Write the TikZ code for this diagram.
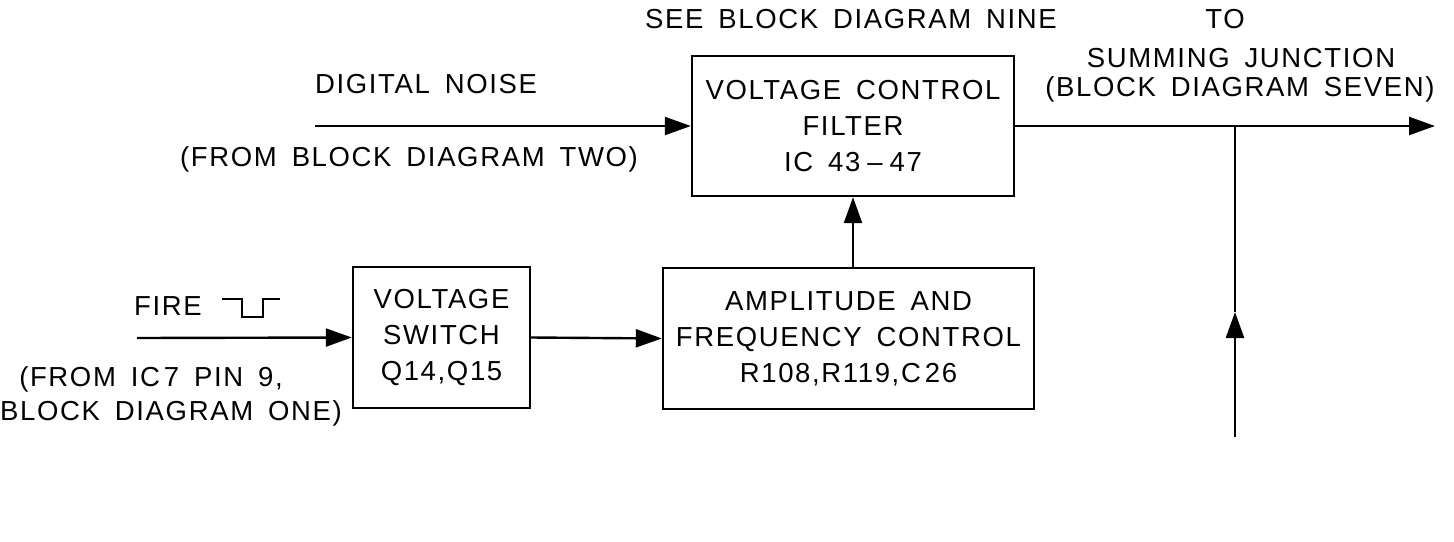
\documentclass[tikz,border=0pt]{standalone}
\usepackage{fontspec}
\setmainfont{Liberation Sans}[LetterSpace=6,WordSpace=1.6]
\usetikzlibrary{arrows.meta}
\begin{document}
\begin{tikzpicture}[x=1pt,y=-1pt,
  line width=2.4pt,
  font=\fontsize{27.5}{36}\selectfont,
  blk/.style={draw,rectangle,inner sep=0pt,align=center},
  lbl/.style={inner sep=0pt,anchor=center},
  arr/.style={-{Triangle[length=26pt,width=18pt]}}]
\useasboundingbox (0,0) rectangle (1454,541);
% blocks
\node[blk,minimum width=322pt,minimum height=140pt] (vcf) at (853,126)
  {VOLTAGE CONTROL\\FILTER\\IC 43\kern7pt–\kern7pt47};
\node[blk,minimum width=371pt,minimum height=141pt] (amp) at (848.5,338.5)
  {AMPLITUDE AND\\FREQUENCY CONTROL\\R108,R119,C\kern4pt26};
\node[blk,minimum width=177pt,minimum height=141pt] (vs) at (441.5,337.5)
  {VOLTAGE\\SWITCH\\Q14,Q15};
% labels
\node[lbl] (see) at (851,19) {SEE BLOCK DIAGRAM NINE};
\node[lbl] (to) at (1225,19) {TO};
\node[lbl] (sj) at (1241,58) {SUMMING JUNCTION};
\node[lbl] (bd7) at (1240,89) {(BLOCK DIAGRAM SEVEN)};
\node[lbl] (dnl) at (426,84) {DIGITAL NOISE};
\node[lbl] (bd2) at (409,159) {(FROM BLOCK DIAGRAM TWO)};
\node[lbl] (fire) at (168,306) {FIRE};
\node[lbl] (ic7) at (151,379) {(FROM IC\kern4pt7 PIN 9,};
\node[lbl] (bd1) at (171,413) {BLOCK DIAGRAM ONE)};
% fire pulse symbol
\draw (222,299) -- (242,299) -- (242,317) -- (263,317) -- (263,299) -- (280,299);
% coordinates
\coordinate (dn) at (315,126);
\coordinate (fi) at (137,338);
\coordinate (out) at (1435,126);
\coordinate (j) at (1235,126);
\coordinate (mid) at (1235,312);
\coordinate (bot) at (1235,437);
% connectors
\draw[arr] (dn) -- (vcf.west);
\draw[arr] (fi) -- (vs.west);
\draw[arr] (vs.east) -- (amp.west);
\draw[arr] (amp.north -| vcf.south) -- (vcf.south);
\draw[arr] (vcf.east) -- (out);
\draw (j) -- (mid);
\draw[arr] (bot) -- (mid);
\end{tikzpicture}
\end{document}
